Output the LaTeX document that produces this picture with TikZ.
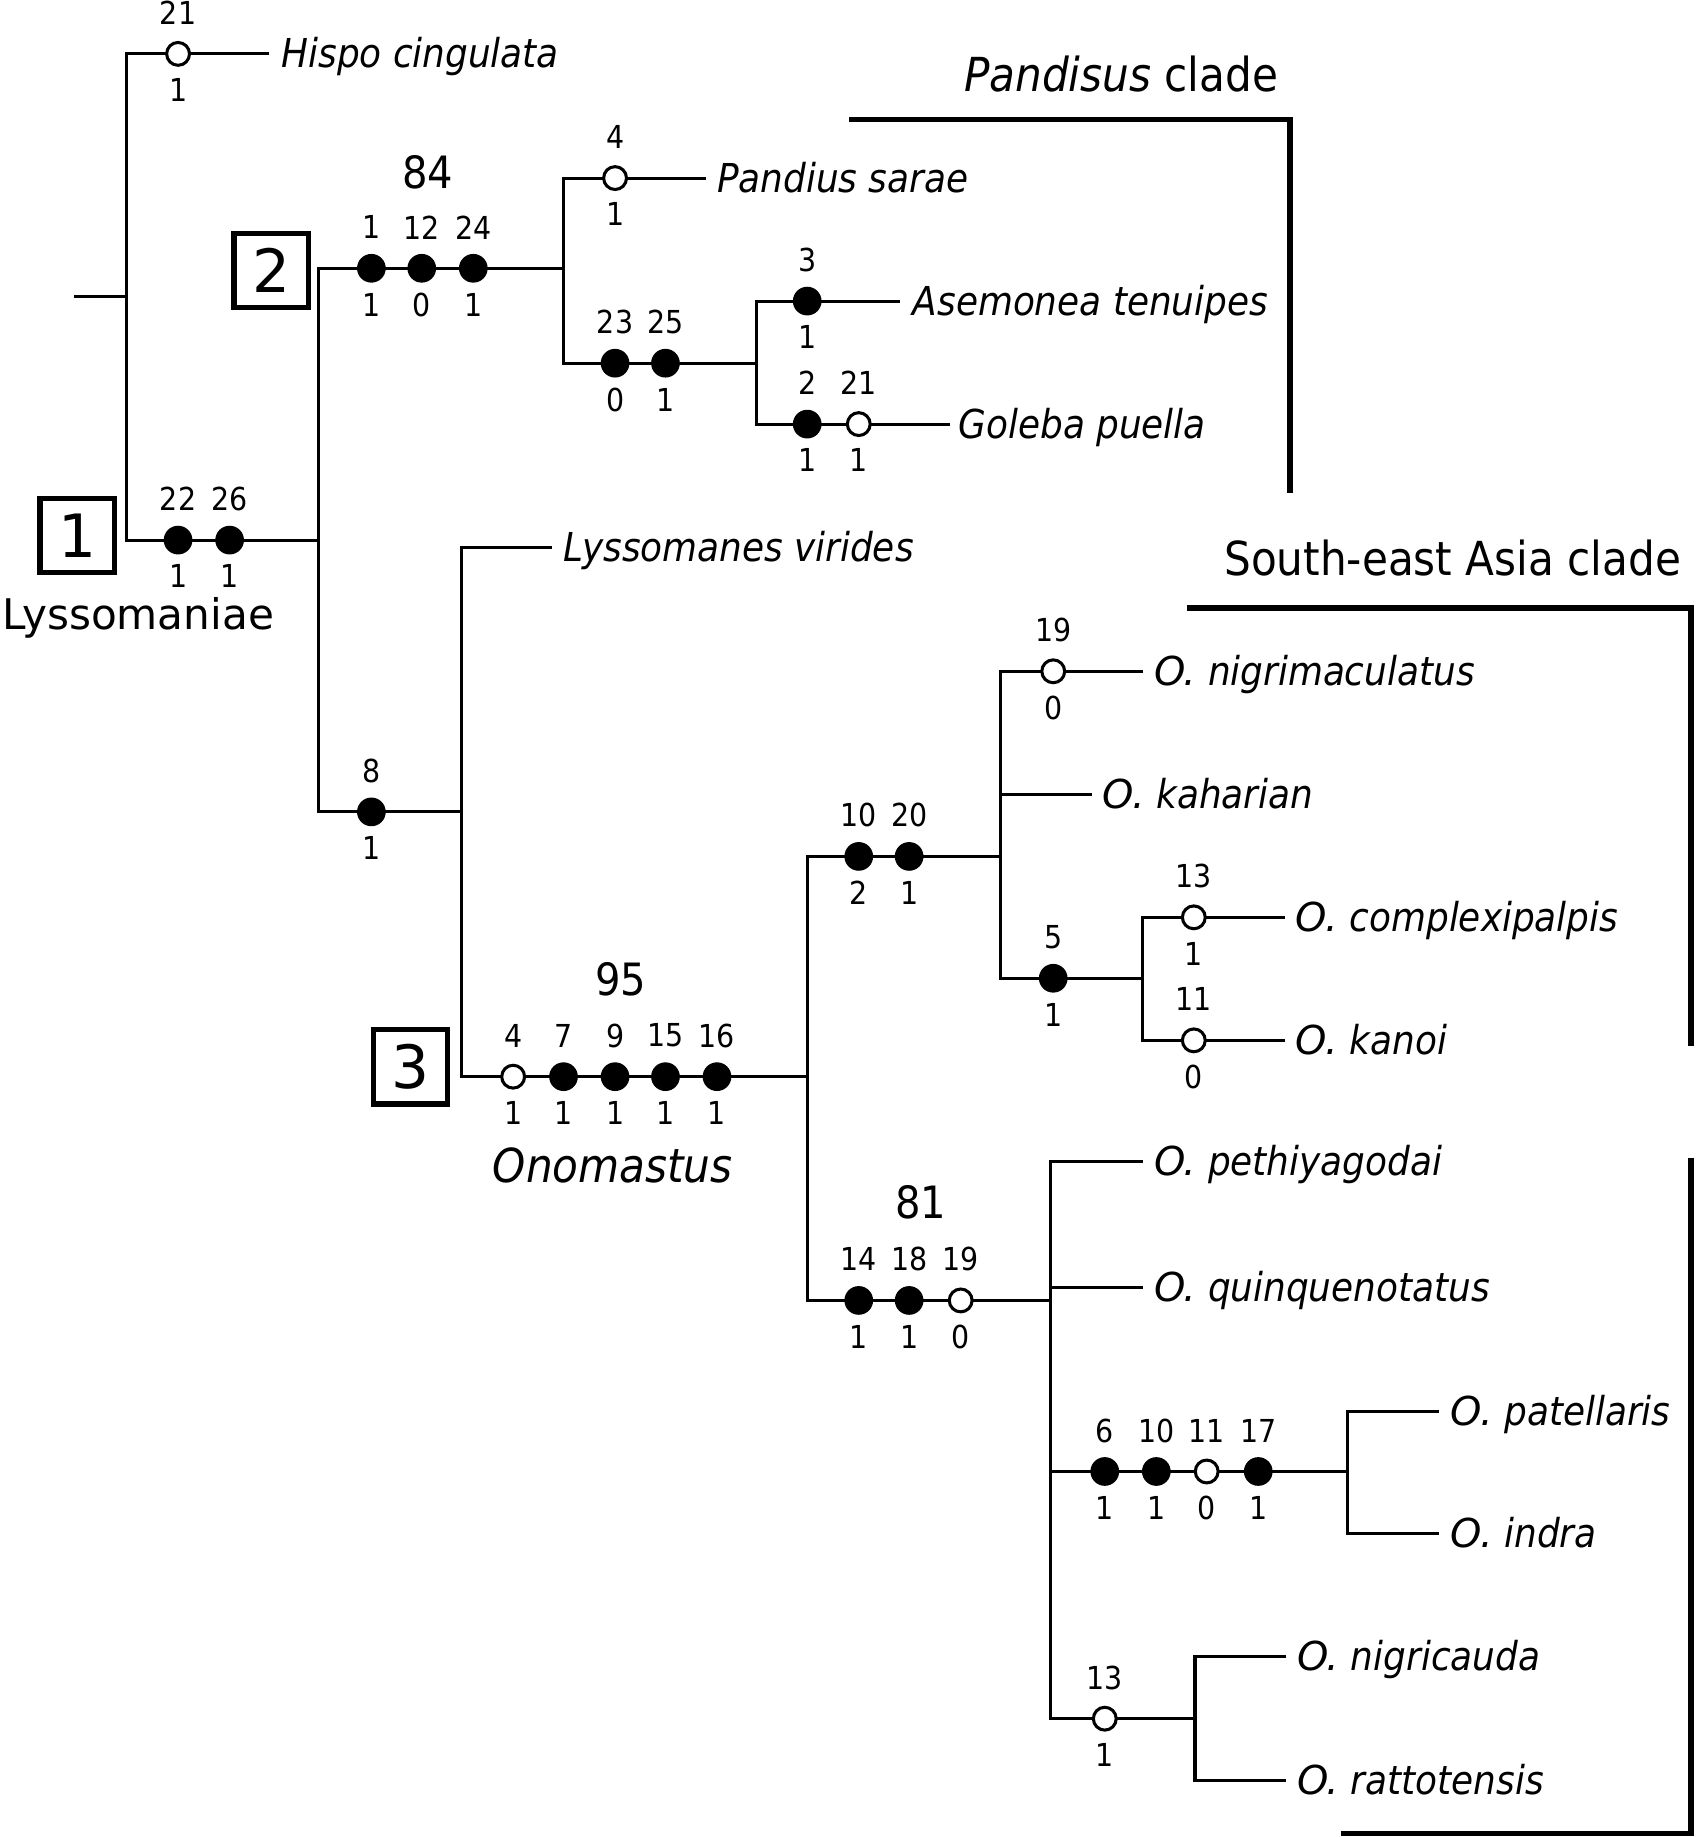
\documentclass[tikz,border=0pt]{standalone}
\usepackage{fontspec}
\setmainfont{DejaVu Sans Condensed}
\newfontfamily\cndit{DejaVu Sans Condensed Oblique}
\newfontfamily\regit{DejaVu Sans Oblique}
\newfontfamily\reg{DejaVu Sans}
\begin{document}
\begin{tikzpicture}[x=1pt,y=-1pt,
  br/.style={line width=2.6pt},
  clade/.style={line width=5pt},
  fdot/.style={circle,fill=black,minimum size=24.5pt,inner sep=0pt},
  odot/.style={circle,draw=black,fill=white,line width=2.6pt,minimum size=19.5pt,inner sep=0pt},
  numlab/.style={inner sep=0pt,font=\fontsize{27}{30}\selectfont},
  bslab/.style={inner sep=0pt,font=\fontsize{38}{42}\selectfont},
  sp/.style={inner sep=0pt,anchor=base west,font=\fontsize{34}{38}\selectfont\cndit},
  bigl/.style={inner sep=0pt,font=\fontsize{40}{44}\selectfont},
  boxn/.style={draw=black,line width=4.5pt,minimum size=63.5pt,inner sep=0pt,font=\reg\fontsize{51}{55}\selectfont}
]
\useasboundingbox (0,0) rectangle (1447,1568);
\newcommand\chr[6]{%
  \node[#4] (#1) at (#2,#3) {};
  \node[numlab] (#1a) at (#2,#3-35) {#5};
  \node[numlab] (#1b) at (#2,#3+31) {#6};}
\newcommand\spn[4]{\node[sp] (#1) at (#2,#3+12) {#4};}
\newcommand\Osp[4]{\node[sp] (#1) at (#2,#3+12) {{\regit O.} #4};}

% coordinates
\coordinate (r0) at (63,253);   \coordinate (r1) at (108,253);
\coordinate (hb) at (108,46);   \coordinate (he) at (230,46);
\coordinate (lb) at (108,461);  \coordinate (n1) at (272,461);
\coordinate (n2c) at (272,229); \coordinate (n2) at (481,229);
\coordinate (pb) at (481,152);  \coordinate (pe) at (603,152);
\coordinate (ab) at (481,310);  \coordinate (n4) at (646,310);
\coordinate (asb) at (646,257); \coordinate (ase) at (768,257);
\coordinate (gb) at (646,362);  \coordinate (ge) at (811,362);
\coordinate (n3c) at (272,693); \coordinate (n3) at (394,693);
\coordinate (lvb) at (394,467); \coordinate (lve) at (471,467);
\coordinate (onb) at (394,919); \coordinate (on) at (689,919);
\coordinate (s1c) at (689,731); \coordinate (s1) at (854,731);
\coordinate (nmb) at (854,573); \coordinate (nme) at (976,573);
\coordinate (kab) at (854,678); \coordinate (kae) at (932,678);
\coordinate (s2c) at (854,835); \coordinate (s2) at (975,835);
\coordinate (cob) at (975,783); \coordinate (coe) at (1097,783);
\coordinate (knb) at (975,888); \coordinate (kne) at (1097,888);
\coordinate (s3c) at (689,1110); \coordinate (s3) at (897,1110);
\coordinate (peb) at (897,991); \coordinate (pee) at (976,991);
\coordinate (qub) at (897,1099); \coordinate (que) at (976,1099);
\coordinate (s4c) at (897,1256); \coordinate (s4) at (1150,1256);
\coordinate (patb) at (1150,1205); \coordinate (pate) at (1228,1205);
\coordinate (inb) at (1150,1309); \coordinate (ine) at (1228,1309);
\coordinate (s5c) at (897,1467); \coordinate (s5) at (1020,1467);
\coordinate (ncb) at (1020,1414); \coordinate (nce) at (1098,1414);
\coordinate (rab) at (1020,1520); \coordinate (rae) at (1098,1520);

% tree
\draw[br] (r0) -- (r1);
\draw[br] (he) -- (hb) -- (lb) -- (n1);
\draw[br] (n2) -- (n2c) -- (n3c) -- (n3);
\draw[br] (pe) -- (pb) -- (ab) -- (n4);
\draw[br] (ase) -- (asb) -- (gb) -- (ge);
\draw[br] (lve) -- (lvb) -- (onb) -- (on);
\draw[br] (s1) -- (s1c) -- (s3c) -- (s3);
\draw[br] (nme) -- (nmb) -- (s2c) -- (s2);
\draw[br] (kab) -- (kae);
\draw[br] (coe) -- (cob) -- (knb) -- (kne);
\draw[br] (pee) -- (peb) -- (s5c) -- (s5);
\draw[br] (qub) -- (que);
\draw[br] (s4c) -- (s4);
\draw[br] (pate) -- (patb) -- (inb) -- (ine);
\draw[br] (nce) -- (ncb) -- (rab) -- (rae);

% clade brackets
\coordinate (pcA) at (725,102); \coordinate (pcB) at (1101,102); \coordinate (pcC) at (1101,421);
\coordinate (saA) at (1013,519); \coordinate (saB) at (1443,519); \coordinate (saC) at (1443,893);
\coordinate (lcA) at (1443,988); \coordinate (lcB) at (1443,1565); \coordinate (lcC) at (1145,1565);
\draw[clade] (pcA) -- (pcB) -- (pcC);
\draw[clade] (saA) -- (saB) -- (saC);
\draw[clade] (lcA) -- (lcB) -- (lcC);

% character states
\chr{c1}{152}{46}{odot}{21}{1}
\chr{c2}{152}{461}{fdot}{22}{1}
\chr{c3}{196}{461}{fdot}{26}{1}
\chr{c4}{317}{229}{fdot}{1}{1}
\chr{c5}{360}{229}{fdot}{12}{0}
\chr{c6}{404}{229}{fdot}{24}{1}
\chr{c7}{525}{152}{odot}{4}{1}
\chr{c8}{525}{310}{fdot}{23}{0}
\chr{c9}{568}{310}{fdot}{25}{1}
\chr{c10}{689}{257}{fdot}{3}{1}
\chr{c11}{689}{362}{fdot}{2}{1}
\chr{c12}{733}{362}{odot}{21}{1}
\chr{c13}{317}{693}{fdot}{8}{1}
\chr{c14}{438}{919}{odot}{4}{1}
\chr{c15}{481}{919}{fdot}{7}{1}
\chr{c16}{525}{919}{fdot}{9}{1}
\chr{c17}{568}{919}{fdot}{15}{1}
\chr{c18}{612}{919}{fdot}{16}{1}
\chr{c19}{733}{731}{fdot}{10}{2}
\chr{c20}{776}{731}{fdot}{20}{1}
\chr{c21}{899}{573}{odot}{19}{0}
\chr{c22}{899}{835}{fdot}{5}{1}
\chr{c23}{1019}{783}{odot}{13}{1}
\chr{c24}{1019}{888}{odot}{11}{0}
\chr{c25}{733}{1110}{fdot}{14}{1}
\chr{c26}{776}{1110}{fdot}{18}{1}
\chr{c27}{820}{1110}{odot}{19}{0}
\chr{c28}{943}{1256}{fdot}{6}{1}
\chr{c29}{987}{1256}{fdot}{10}{1}
\chr{c30}{1030}{1256}{odot}{11}{0}
\chr{c31}{1074}{1256}{fdot}{17}{1}
\chr{c32}{943}{1467}{odot}{13}{1}

% bootstrap values
\node[bslab] (b84) at (365,147) {84};
\node[bslab] (b95) at (530,836) {95};
\node[bslab] (b81) at (786,1026) {81};

% boxes
\node[boxn] (box1) at (66,457) {1};
\node[boxn] (box2) at (231.5,231) {2};
\node[boxn] (box3) at (350.5,910.5) {3};

% group labels
\node[bigl,font=\reg\fontsize{36}{40}\selectfont] (lysso) at (118,527) {Lyssomaniae};
\node[bigl,font=\cndit\fontsize{40}{44}\selectfont] (onom) at (523,995) {Onomastus};
\node[bigl] (pandl) at (957,63) {{\cndit Pandisus} clade};
\node[bigl] (seal) at (1240,476) {South-east Asia clade};

% taxa
\spn{t1}{240}{46}{Hispo cingulata}
\spn{t2}{612}{152}{Pandius sarae}
\spn{t3}{779}{257}{Asemonea tenuipes}
\spn{t4}{818}{362}{Goleba puella}
\spn{t5}{481}{467}{Lyssomanes virides}
\Osp{t6}{985}{573}{nigrimaculatus}
\Osp{t7}{941}{678}{kaharian}
\Osp{t8}{1106}{783}{complexipalpis}
\Osp{t9}{1106}{888}{kanoi}
\Osp{t10}{985}{991}{pethiyagodai}
\Osp{t11}{985}{1099}{quinquenotatus}
\Osp{t12}{1238}{1205}{patellaris}
\Osp{t13}{1238}{1309}{indra}
\Osp{t14}{1107}{1414}{nigricauda}
\Osp{t15}{1107}{1520}{rattotensis}
\end{tikzpicture}
\end{document}
